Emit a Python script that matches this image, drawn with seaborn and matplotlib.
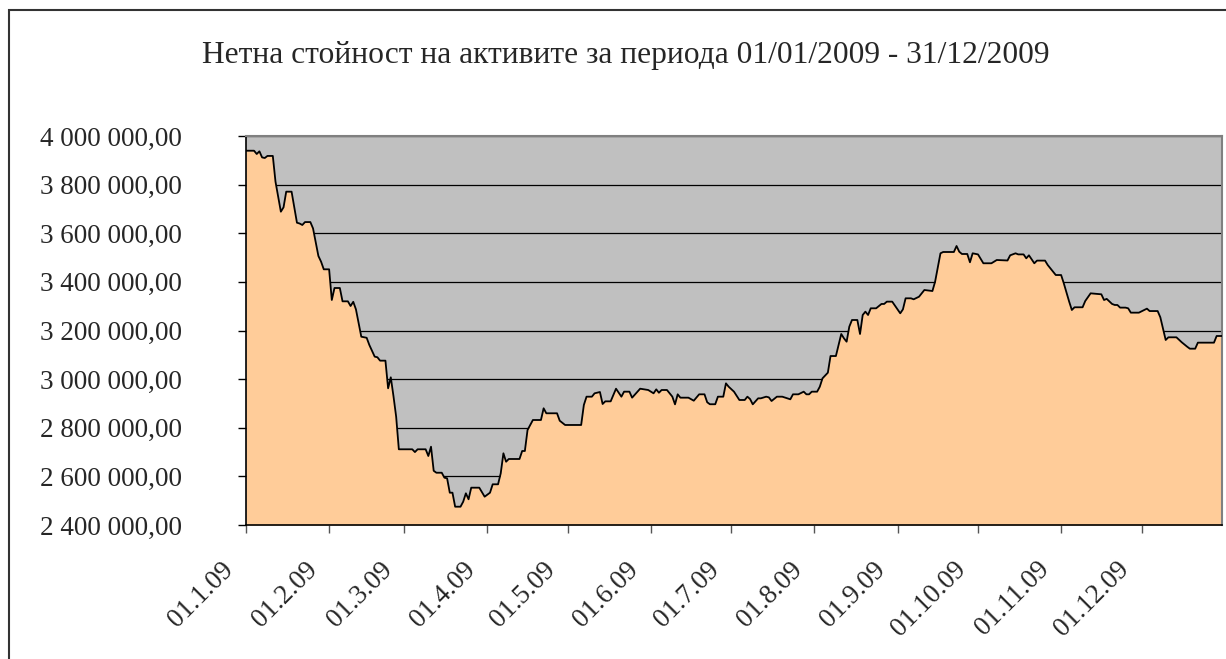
import numpy as np
import pandas as pd
import matplotlib
matplotlib.use("Agg")
import matplotlib.pyplot as plt
import matplotlib.transforms as mtransforms
from matplotlib.patches import Rectangle
from matplotlib.ticker import FuncFormatter
import seaborn as sns

# Days since 01.01.2009 and net asset value
days = [0, 3, 4, 5, 6, 7, 8, 10, 11, 13, 14, 15, 17, 19, 20, 21, 22, 24, 25, 27,
        28, 29, 31, 32, 33, 35, 36, 38, 39, 40, 41, 43, 45, 46, 48, 49, 50, 52, 53, 54,
        55, 56, 57, 62, 63, 64, 67, 68, 69, 70, 71, 73, 74, 75, 76, 77, 78, 80, 81, 82,
        83, 84, 87, 89, 91, 92, 94, 95, 96, 97, 98, 102, 103, 104, 105, 107, 110, 111, 112, 116,
        117, 119, 125, 126, 127, 129, 130, 132, 133, 134, 136, 138, 140, 141, 143, 144, 147, 150, 152, 153,
        154, 155, 157, 159, 160, 161, 162, 165, 167, 169, 171, 172, 173, 175, 176, 178, 179, 180, 182, 184,
        186, 187, 188, 189, 191, 192, 194, 195, 196, 198, 200, 203, 204, 206, 208, 209, 210, 211, 213, 214,
        215, 217, 218, 220, 222, 223, 224, 225, 226, 228, 229, 230, 231, 232, 233, 235, 237, 238, 239, 241,
        243, 244, 245, 246, 248, 249, 251, 253, 256, 257, 259, 260, 264, 265, 266, 267, 269, 270, 271, 273,
        275, 278, 280, 284, 285, 287, 288, 290, 291, 292, 294, 295, 298, 299, 301, 302, 304, 305, 307, 308,
        309, 312, 313, 315, 319, 320, 321, 323, 324, 325, 326, 328, 329, 330, 333, 335, 336, 337, 340, 341,
        343, 344, 347, 349, 351, 352, 354, 355, 361, 362, 364]
nav = [3939500, 3939500, 3926000, 3937000, 3912000, 3909500, 3918000, 3918000, 3812000, 3688700,
       3706700, 3771000, 3771000, 3643400, 3640000, 3634000, 3646000, 3646000, 3620000, 3506400,
       3483000, 3451700, 3451700, 3325500, 3374800, 3374800, 3320000, 3320000, 3300800, 3318000,
       3287000, 3174500, 3170000, 3140400, 3092400, 3090000, 3076000, 3076000, 2962300, 3007500,
       2930000, 2845500, 2711400, 2711400, 2700000, 2711400, 2711400, 2683800, 2722000, 2623000,
       2615000, 2615000, 2594600, 2592000, 2532900, 2532900, 2475300, 2475300, 2495800, 2530400,
       2505800, 2553500, 2553500, 2516500, 2532900, 2567400, 2567400, 2612600, 2694900, 2660300,
       2671500, 2671500, 2704400, 2704400, 2790800, 2831900, 2831900, 2880000, 2859500, 2859500,
       2829000, 2811400, 2811400, 2893600, 2927800, 2927800, 2941600, 2947000, 2897700, 2908600,
       2908600, 2960600, 2927800, 2948400, 2948400, 2923700, 2960600, 2955300, 2941600, 2958000,
       2944000, 2955300, 2955300, 2928000, 2896300, 2937500, 2923700, 2923700, 2911300, 2937500,
       2937500, 2904900, 2896700, 2896700, 2927800, 2927800, 2982600, 2968900, 2948400, 2914200,
       2914200, 2927800, 2918000, 2896300, 2921000, 2921000, 2927800, 2925000, 2910000, 2927800,
       2927800, 2917000, 2937500, 2937500, 2948400, 2937500, 2937500, 2948400, 2948400, 2968900,
       3003200, 3026500, 3095000, 3095000, 3185600, 3167900, 3154000, 3215700, 3243200, 3243200,
       3185600, 3263800, 3277500, 3263800, 3291300, 3291300, 3309200, 3309200, 3318700, 3318700,
       3287000, 3270700, 3287000, 3332400, 3332400, 3328300, 3339000, 3366600, 3362400, 3400700,
       3517500, 3522900, 3522900, 3547600, 3524200, 3514700, 3514700, 3480600, 3517500, 3513000,
       3476500, 3476500, 3490000, 3488000, 3509300, 3517500, 3513000, 3513000, 3496900, 3509300,
       3476500, 3487500, 3487500, 3469400, 3441800, 3428200, 3428200, 3394100, 3318700, 3284400,
       3295500, 3295500, 3321400, 3352900, 3348900, 3325500, 3330000, 3309200, 3305000, 3304900,
       3294100, 3294100, 3291300, 3273400, 3273400, 3284400, 3289900, 3280000, 3280000, 3254300,
       3161000, 3172000, 3172000, 3151400, 3133400, 3125200, 3125200, 3150000, 3150000, 3177400,
       3177400]

month_ticks = ["2009-01-01", "2009-02-01", "2009-03-01", "2009-04-01", "2009-05-01", "2009-06-01",
               "2009-07-01", "2009-08-01", "2009-09-01", "2009-10-01", "2009-11-01", "2009-12-01"]
month_labels = ["01.1.09", "01.2.09", "01.3.09", "01.4.09", "01.5.09", "01.6.09",
                "01.7.09", "01.8.09", "01.9.09", "01.10.09", "01.11.09", "01.12.09"]
y_ticks = [2400000, 2600000, 2800000, 3000000, 3200000, 3400000, 3600000, 3800000, 4000000]

title = "Нетна стойност на активите за периода 01/01/2009 - 31/12/2009"

df = pd.DataFrame({
    "date": pd.Timestamp("2009-01-01") + pd.to_timedelta(days, unit="D"),
    "nav": nav,
})

sns.set_theme(style="white")
plt.rcParams["font.family"] = ["Liberation Serif", "DejaVu Serif"]

fig = plt.figure(figsize=(12.26, 6.59), dpi=100)
ax = fig.add_axes([246 / 1226, 1 - 525 / 659, (1222 - 246) / 1226, (525 - 136) / 659])
ax.set_facecolor("#C0C0C0")

ax.fill_between(df["date"], df["nav"], y_ticks[0], color="#FFCC99", lw=0, zorder=2)
sns.lineplot(data=df, x="date", y="nav", ax=ax, color="black", lw=1.3, zorder=3)

ax.set_ylim(y_ticks[0], y_ticks[-1])
ax.set_xlim(pd.Timestamp("2009-01-01"), pd.Timestamp("2009-12-31"))
ax.set_yticks(y_ticks)
ax.yaxis.set_major_formatter(FuncFormatter(
    lambda v, p: f"{v:,.2f}".replace(",", " ").replace(".", ",")))
ax.set_xticks(pd.to_datetime(month_ticks))
ax.set_xticklabels(month_labels)

ax.grid(axis="y", color="black", lw=0.9)
ax.set_axisbelow(True)
ax.set_xlabel("")
ax.set_ylabel("")

for side in ["left", "bottom"]:
    ax.spines[side].set_color("black")
    ax.spines[side].set_linewidth(1.2)
for side in ["top", "right"]:
    ax.spines[side].set_color("#808080")
    ax.spines[side].set_linewidth(1.5)

ax.tick_params(axis="y", length=6, width=1, color="black", pad=40, labelsize=19.5, direction="out", left=True)
ax.tick_params(axis="x", length=6, width=1, color="#555555", pad=17, labelsize=19.5, direction="out", bottom=True)
shift = mtransforms.ScaledTranslation(-7 / 100, 0, fig.dpi_scale_trans)
for lbl in ax.get_xticklabels():
    lbl.set_rotation(45)
    lbl.set_ha("right")
    lbl.set_va("top")
    lbl.set_transform(lbl.get_transform() + shift)

fig.text(625.5 / 1226, 1 - 56 / 659, title, ha="center", va="center", fontsize=22.7)

fig.patches.append(Rectangle((9 / 1226, -0.1), 1.2, 1.1 - 10 / 659, transform=fig.transFigure,
                             fill=False, ec="#333333", lw=1.5))

fig.savefig("out.png", dpi=100)
